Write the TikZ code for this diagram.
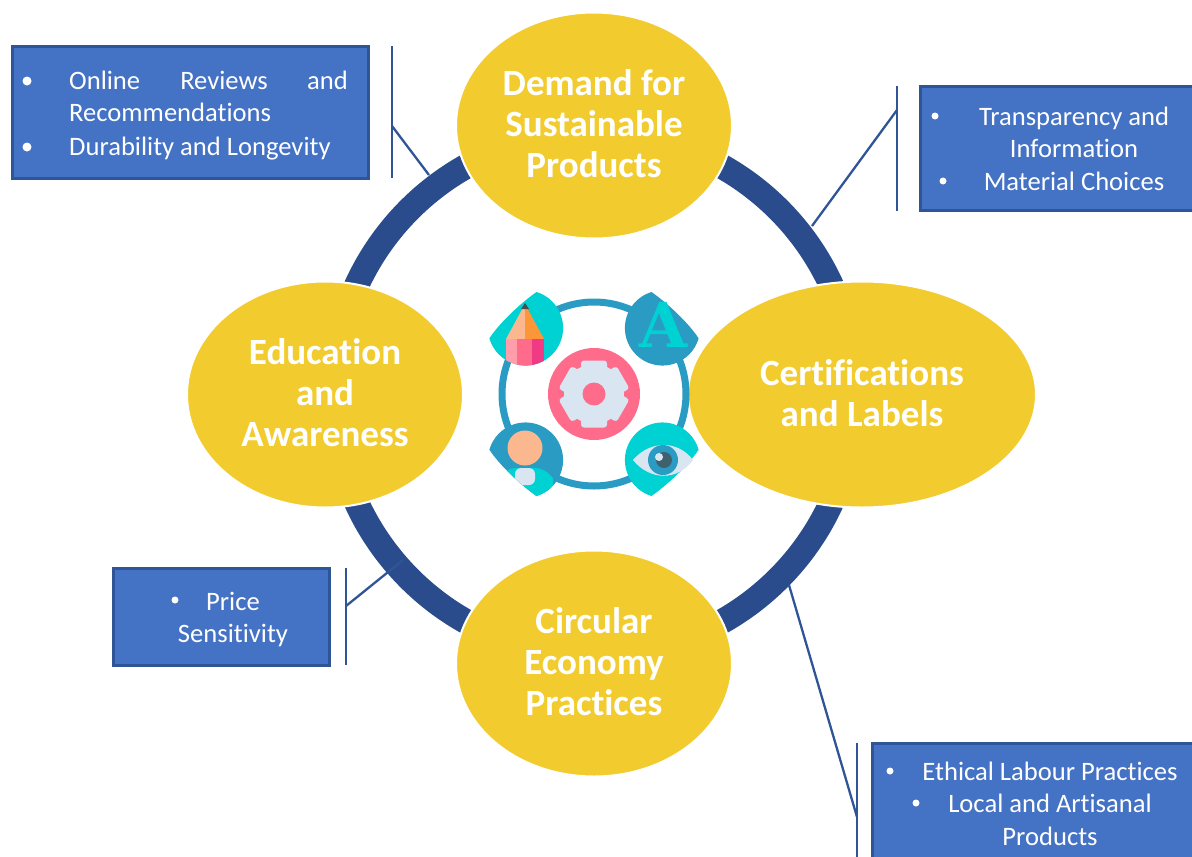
\documentclass[tikz,border=0pt]{standalone}
\usepackage{fontspec}
\setmainfont[Ligatures=NoCommon]{Carlito}
\newfontfamily\iconfont{DejaVu Serif}
\usetikzlibrary{shapes.geometric}
\definecolor{ringblue}{HTML}{2B4C8C}
\definecolor{boxblue}{HTML}{4472C4}
\definecolor{boxedge}{HTML}{2F5597}
\definecolor{gold}{HTML}{F2CC2E}
\definecolor{icoteal}{HTML}{00D2D3}
\definecolor{icoblue}{HTML}{2A9BC2}
\definecolor{icopink}{HTML}{FF6B8B}
\definecolor{icopale}{HTML}{D9E6F1}
\definecolor{icopeach}{HTML}{FBB88F}
\tikzset{
	topic/.style={ellipse,fill=gold,draw=white,line width=2pt,inner sep=0pt,outer sep=0pt,text=white,align=center,text depth=3.5pt,font=\fontsize{37}{41}\selectfont\bfseries},
	infobox/.style={rectangle,fill=boxblue,draw=boxedge,line width=3pt,inner sep=0pt,outer sep=0pt},
	boxtext/.style={text=white,inner sep=0pt,font=\fontsize{26.6}{30}\selectfont},
	bracket/.style={boxedge,line width=2.8pt},
	leader/.style={boxedge,line width=2.3pt},
}
% leaf behind each icon: xscale,yscale mirror it
\newcommand{\leafpath}{(11,-36) arc [start angle=-73,end angle=164,radius=37.6] .. controls (-26,-5) and (-6,-24) .. cycle}
\begin{document}
\begin{tikzpicture}[x=1pt,y=-1pt]
	\useasboundingbox (0,0) rectangle (1192,857);
	% ring
	\draw [ringblue,line width=25pt] (594,394) circle (261);
	% topics
	\node [topic,minimum width=276pt,minimum height=226pt] (demand) at (594,125.5) {Demand for\\Sustainable\\Products};
	\node [topic,minimum width=276pt,minimum height=226pt] (education) at (325,394.5) {Education\\and\\Awareness};
	\node [topic,minimum width=348pt,minimum height=226pt] (certs) at (862,394.5) {Certifications\\and Labels};
	\node [topic,minimum width=276pt,minimum height=226pt] (circular) at (594,663.5) {Circular\\Economy\\Practices};
	% boxes
	\node [infobox,minimum width=356pt,minimum height=132pt,anchor=north west] (boxonline) at (12,46) {};
	\node [infobox,minimum width=274pt,minimum height=124pt,anchor=north west] (boxtrans) at (920,86) {};
	\node [infobox,minimum width=215.5pt,minimum height=97pt,anchor=north west] (boxprice) at (113.5,568) {};
	\node [infobox,minimum width=324pt,minimum height=120pt,anchor=north west] (boxethical) at (872,743) {};
	% box texts
	\node [boxtext,anchor=base west] (online1) at (69,89) {Online};
	\node [boxtext,anchor=base] (online2) at (224,89) {Reviews};
	\node [boxtext,anchor=base east] (online3) at (348,89) {and};
	\node [boxtext,anchor=base west] (online4) at (69,121) {Recommendations};
	\node [boxtext,anchor=base west] (online5) at (69,155) {Durability and Longevity};
	\fill [white] (27,81) circle (4.5) (27,147) circle (4.5);
	\node [boxtext,anchor=base] (trans1) at (1074,125) {Transparency and};
	\node [boxtext,anchor=base] (trans2) at (1074,157) {Information};
	\node [boxtext,anchor=base] (trans3) at (1074,190) {Material Choices};
	\fill [white] (935,116) circle (3.5) (943,181) circle (3.5);
	\node [boxtext,anchor=base] (price1) at (233,610) {Price};
	\node [boxtext,anchor=base] (price2) at (233,642) {Sensitivity};
	\fill [white] (175,600) circle (3.5);
	\node [boxtext,anchor=base] (ethical1) at (1050,780) {Ethical Labour Practices};
	\node [boxtext,anchor=base] (ethical2) at (1050,812) {Local and Artisanal};
	\node [boxtext,anchor=base] (ethical3) at (1050,845) {Products};
	\fill [white] (890,771) circle (3.5) (916,803) circle (3.5);
	% brackets
	\coordinate (onlinetop) at (392,46); \coordinate (onlinebot) at (392,178);
	\coordinate (onlinemid) at (392,126); \coordinate (onlinering) at (429,175);
	\draw [bracket] (onlinetop) -- (onlinebot);
	\draw [leader] (onlinemid) -- (onlinering);
	\coordinate (transtop) at (897,86); \coordinate (transbot) at (897,211);
	\coordinate (transmid) at (897,110); \coordinate (transring) at (812,226);
	\draw [bracket] (transtop) -- (transbot);
	\draw [leader] (transmid) -- (transring);
	\coordinate (pricetop) at (346,568); \coordinate (pricebot) at (346,665);
	\coordinate (pricemid) at (346,606); \coordinate (pricering) at (403,560);
	\draw [bracket] (pricetop) -- (pricebot);
	\draw [leader] (pricemid) -- (pricering);
	\coordinate (ethicaltop) at (857,743); \coordinate (ethicalbot) at (857,857);
	\coordinate (ethicalmid) at (857,817); \coordinate (ethicalring) at (789,585);
	\draw [bracket] (ethicaltop) -- (ethicalbot);
	\draw [leader] (ethicalmid) -- (ethicalring);
	% icon
	\draw [icoblue,line width=7pt] (594,394) circle (92);
	\fill [icopink] (594,394) circle (46);
	\fill [icopale] (594,394) circle (30);
	\foreach \a in {30,90,...,330}
		\fill [icopale,rounded corners=3pt,rotate around={\a:(594,394)}] (610,381) rectangle (627.5,407);
	\fill [icopink] (594,394) circle (11.5);
	\fill [icoteal,shift={(525.5,328)}] \leafpath;
	\fill [icoblue,shift={(662.5,328)},xscale=-1] \leafpath;
	\fill [icoblue,shift={(525.5,460)},yscale=-1] \leafpath;
	\fill [icoteal,shift={(662.5,460)},xscale=-1,yscale=-1] \leafpath;
	% pencil
	\begin{scope}
		\clip (525.5,328) circle (37.6);
		\fill [icopeach] (525,304) -- (506,339) -- (525,339) -- cycle;
		\fill [orange!60!icopeach] (525,304) -- (544,339) -- (525,339) -- cycle;
		\fill [pink!60!icopink] (506,339) rectangle (517,366);
		\fill [icopink] (517,339) rectangle (532,366);
		\fill [magenta!50!icopink] (532,339) rectangle (544,366);
		\fill [black!70] (521,309) -- (525,303) -- (529,309) -- cycle;
	\end{scope}
	% letter
	\node [text=icoteal,inner sep=0pt,anchor=base,font=\fontsize{62}{62}\selectfont\iconfont\bfseries] (letter) at (664,347) {A};
	% person
	\begin{scope}
		\clip [shift={(525.5,460)},yscale=-1] \leafpath;
		\fill [icopeach] (525,448) circle (17.5);
		\fill [icoteal] (503,474) .. controls (510,468) and (512,468) .. (516,468) -- (536,468) .. controls (542,468) and (548,472) .. (553,478) -- (553,500) -- (503,500) -- cycle;
		\fill [icopale,rounded corners=6pt] (515,468) -- (535,468) -- (535,485) -- (515,485) -- cycle;
	\end{scope}
	% eye
	\fill [icopale] (633,460) .. controls (650,440) and (678,440) .. (693,460) .. controls (678,481) and (650,481) .. (633,460) -- cycle;
	\fill [icoblue] (663,460) circle (15);
	\fill [black!50!icoblue!60!gray] (664,460) circle (8);
	\fill [icopale] (659,457) circle (4);
\end{tikzpicture}
\end{document}
